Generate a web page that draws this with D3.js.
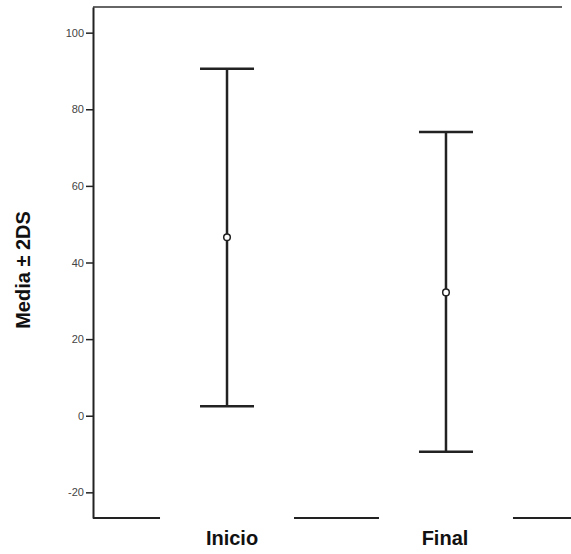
<!DOCTYPE html>
<html>
<head>
<meta charset="utf-8">
<script src="https://cdn.jsdelivr.net/npm/d3@7"></script>
<style>
  body { margin: 0; background: #fff; }
  svg { display: block; }
</style>
</head>
<body>
<svg id="chart" width="571" height="554"></svg>
<script>
// data
var groups = ['Inicio', 'Final'];
var means = [46.6, 32.2];
var lower = [2.5, -9.4];   // media - 2DS
var upper = [90.6, 74.1];  // media + 2DS
var yTicks = [-20, 0, 20, 40, 60, 80, 100];

var rows = groups.map(function(g, i) {
  return { group: g, mean: means[i], lo: lower[i], hi: upper[i] };
});

var svg = d3.select('#chart');

var margin = { top: 7, left: 93, bottom: 518, right: 580 };

var y = d3.scaleLinear()
  .domain([-26.7, 106.7])
  .range([margin.bottom, margin.top]);

var x = d3.scalePoint()
  .domain(groups)
  .range([margin.left, margin.right])
  .padding(0.612);

// top frame line
svg.append('line')
  .attr('x1', margin.left).attr('x2', 562)
  .attr('y1', margin.top).attr('y2', margin.top)
  .attr('stroke', '#333').attr('stroke-width', 1.5);

// y axis
var yAxis = svg.append('g')
  .attr('transform', 'translate(' + margin.left + ',0)')
  .call(d3.axisLeft(y)
    .tickValues(yTicks)
    .tickSize(7)
    .tickSizeOuter(0)
    .tickPadding(2)
    .tickFormat(function(d) { return String(d); }));
yAxis.select('.domain').attr('stroke', '#222').attr('stroke-width', 2);
yAxis.selectAll('.tick line').attr('stroke', '#222').attr('stroke-width', 1.5);
yAxis.selectAll('.tick text')
  .attr('font-family', 'Liberation Sans, Arial, sans-serif')
  .attr('font-size', 11)
  .attr('fill', '#444');

// bottom axis, drawn as broken segments around the category labels
var gapHalf = 67;
var segs = [[margin.left, x(groups[0]) - gapHalf]];
for (var i = 0; i < groups.length - 1; i++) {
  segs.push([x(groups[i]) + gapHalf, x(groups[i + 1]) - gapHalf]);
}
segs.push([x(groups[groups.length - 1]) + gapHalf, 571]);
svg.selectAll('.xseg')
  .data(segs)
  .enter()
  .append('line')
  .attr('class', 'xseg')
  .attr('x1', function(d) { return d[0]; })
  .attr('x2', function(d) { return d[1]; })
  .attr('y1', margin.bottom).attr('y2', margin.bottom)
  .attr('stroke', '#222').attr('stroke-width', 2);

svg.selectAll('.xlab')
  .data(groups)
  .enter()
  .append('text')
  .attr('class', 'xlab')
  .attr('x', function(d, i) { return x(d) + (i === 0 ? 5 : -1); })
  .attr('y', 545)
  .attr('text-anchor', 'middle')
  .attr('font-family', 'Liberation Sans, Arial, sans-serif')
  .attr('font-weight', 'bold')
  .attr('font-size', 20)
  .attr('fill', '#111')
  .text(function(d) { return d; });

// y title
svg.append('text')
  .attr('transform', 'translate(30,270) rotate(-90)')
  .attr('text-anchor', 'middle')
  .attr('font-family', 'Liberation Sans, Arial, sans-serif')
  .attr('font-weight', 'bold')
  .attr('font-size', 20)
  .attr('fill', '#111')
  .text('Media \u00b1 2DS');

// error bars
var capHalf = 27;
var bars = svg.selectAll('.bar')
  .data(rows)
  .enter()
  .append('g')
  .attr('class', 'bar');

bars.append('line')
  .attr('x1', function(d) { return x(d.group); })
  .attr('x2', function(d) { return x(d.group); })
  .attr('y1', function(d) { return y(d.hi); })
  .attr('y2', function(d) { return y(d.lo); })
  .attr('stroke', '#222').attr('stroke-width', 2.5);

bars.append('line')
  .attr('x1', function(d) { return x(d.group) - capHalf; })
  .attr('x2', function(d) { return x(d.group) + capHalf; })
  .attr('y1', function(d) { return y(d.hi); })
  .attr('y2', function(d) { return y(d.hi); })
  .attr('stroke', '#222').attr('stroke-width', 2.5);

bars.append('line')
  .attr('x1', function(d) { return x(d.group) - capHalf; })
  .attr('x2', function(d) { return x(d.group) + capHalf; })
  .attr('y1', function(d) { return y(d.lo); })
  .attr('y2', function(d) { return y(d.lo); })
  .attr('stroke', '#222').attr('stroke-width', 2.5);

bars.append('circle')
  .attr('cx', function(d) { return x(d.group); })
  .attr('cy', function(d) { return y(d.mean); })
  .attr('r', 3.3)
  .attr('fill', '#fff')
  .attr('stroke', '#222').attr('stroke-width', 1.5);
</script>
</body>
</html>
